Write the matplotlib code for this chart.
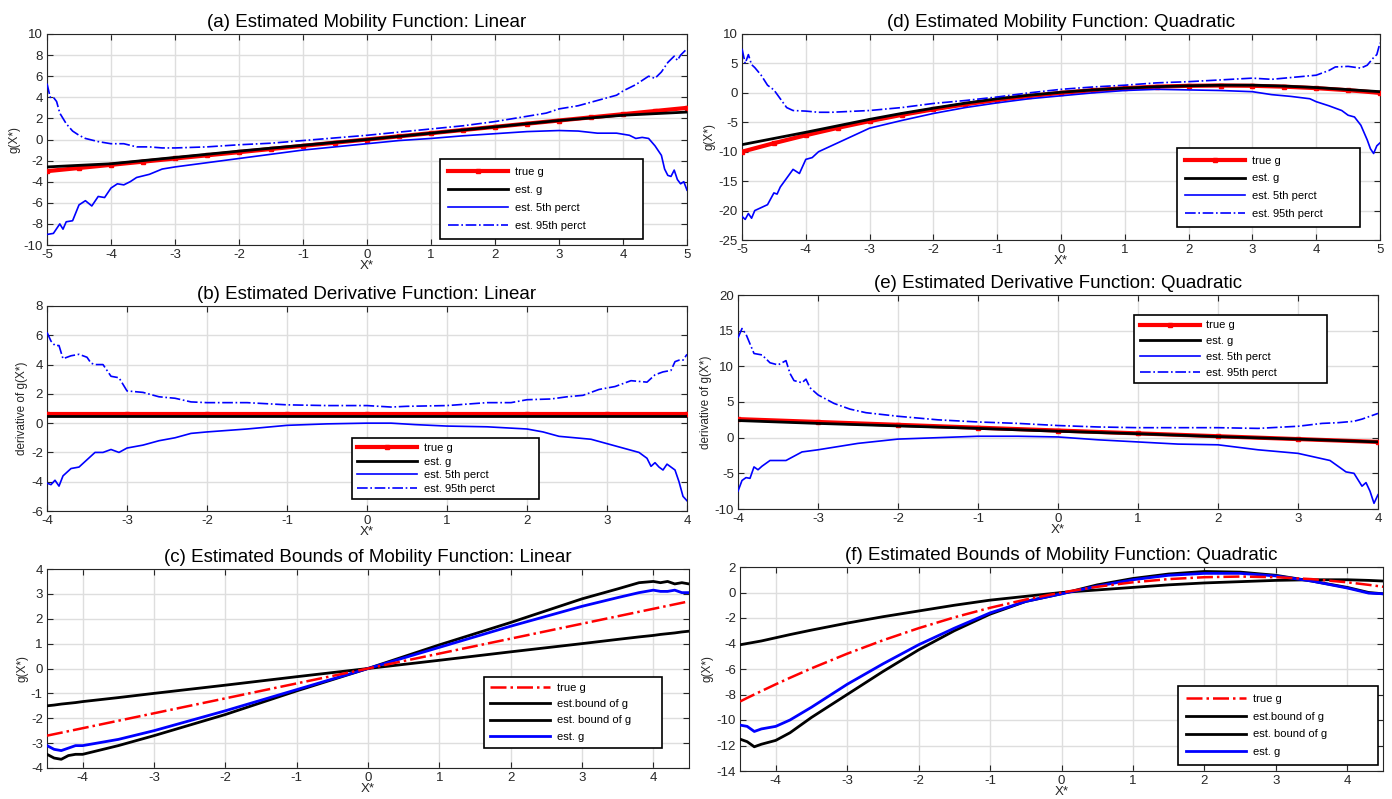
import matplotlib
matplotlib.use("Agg")
import matplotlib.pyplot as plt

# ---- data ----
# (a) linear mobility function
xa = [-5.0, -4.5, -4.0, -3.5, -3.0, -2.5, -2.0, -1.5, -1.0, -0.5, 0.0, 0.5, 1.0, 1.5, 2.0, 2.5, 3.0, 3.5, 4.0, 4.5, 5.0]
true_a = [-3.0, -2.7, -2.4, -2.1, -1.8, -1.5, -1.2, -0.9, -0.6, -0.3, 0.0, 0.3, 0.6, 0.9, 1.2, 1.5, 1.8, 2.1, 2.4, 2.7, 3.0]
est_a = [-2.6, -2.45, -2.3, -2.0, -1.7, -1.4, -1.1, -0.82, -0.55, -0.27, 0.0, 0.3, 0.6, 0.9, 1.2, 1.5, 1.8, 2.05, 2.3, 2.45, 2.6]
x5_a = [-5.0, -4.9, -4.8, -4.75, -4.7, -4.6, -4.5, -4.4, -4.3, -4.2, -4.1, -4.0, -3.9, -3.8, -3.7, -3.6, -3.4, -3.2, -3.0, -2.5, -2.0,
        -1.5, -1.0, -0.5, 0.0, 0.5, 1.0, 1.5, 2.0, 2.5, 3.0, 3.3, 3.6, 3.9, 4.1, 4.2, 4.3, 4.4, 4.5, 4.6, 4.65, 4.7, 4.75, 4.8,
        4.85, 4.9, 4.95, 5.0]
p5_a = [-9.0, -8.9, -8.0, -8.5, -7.8, -7.7, -6.2, -5.8, -6.3, -5.4, -5.5, -4.6, -4.2, -4.3, -4.0, -3.6, -3.3, -2.8, -2.6, -2.2, -1.8,
        -1.4, -1.0, -0.7, -0.4, -0.1, 0.1, 0.35, 0.55, 0.75, 0.85, 0.8, 0.6, 0.6, 0.4, 0.1, 0.2, 0.1, -0.6, -1.5, -2.8, -3.4, -3.5, -2.9,
        -3.8, -4.2, -4.0, -4.8]
x95_a = [-5.0, -4.95, -4.9, -4.85, -4.8, -4.7, -4.6, -4.5, -4.4, -4.2, -4.0, -3.8, -3.6, -3.4, -3.2, -3.0, -2.5, -2.0, -1.5, -1.0,
         -0.5, 0.0, 0.5, 1.0, 1.5, 2.0, 2.5, 2.8, 3.0, 3.3, 3.6, 3.9, 4.0, 4.2, 4.4, 4.5, 4.6, 4.7, 4.8, 4.85, 4.9, 5.0]
p95_a = [5.3, 4.0, 4.0, 3.6, 2.5, 1.5, 0.8, 0.4, 0.1, -0.2, -0.4, -0.4, -0.7, -0.7, -0.8, -0.8, -0.7, -0.5, -0.35, -0.1,
         0.15, 0.4, 0.7, 1.0, 1.3, 1.7, 2.2, 2.5, 2.9, 3.2, 3.7, 4.2, 4.6, 5.2, 6.0, 5.8, 6.4, 7.3, 7.9, 7.5, 8.0, 8.6]

# (d) quadratic mobility function
true_d = [-10.0, -8.55, -7.2, -5.95, -4.8, -3.75, -2.8, -1.95, -1.2, -0.55, 0.0, 0.45, 0.8, 1.05, 1.2, 1.25, 1.2, 1.05, 0.8, 0.45, 0.0]
est_d = [-8.8, -7.75, -6.7, -5.6, -4.5, -3.5, -2.6, -1.75, -1.0, -0.4, 0.1, 0.5, 0.8, 1.05, 1.2, 1.3, 1.3, 1.15, 0.9, 0.55, 0.2]
x5_d = [-5.0, -4.95, -4.9, -4.85, -4.8, -4.7, -4.6, -4.5, -4.45, -4.4, -4.3, -4.2, -4.1, -4.0, -3.9, -3.8, -3.6, -3.4, -3.2, -3.0,
        -2.5, -2.0, -1.5, -1.0, -0.5, 0.0, 0.5, 1.0, 1.5, 2.0, 2.5, 3.0, 3.3, 3.6, 3.9, 4.0, 4.2, 4.4, 4.5, 4.6, 4.7, 4.8, 4.85,
        4.9, 4.95, 5.0]
p5_d = [-21.0, -21.5, -20.5, -21.3, -20.0, -19.5, -19.0, -17.0, -17.2, -16.0, -14.5, -13.0, -13.7, -11.3, -11.0, -10.0, -9.0, -8.0,
        -7.0, -6.0, -4.7, -3.5, -2.5, -1.7, -1.0, -0.5, 0.0, 0.4, 0.6, 0.5, 0.4, 0.2, -0.3, -0.6, -1.0, -1.5, -2.2, -3.0, -3.8, -4.1,
        -5.5, -8.0, -9.5, -10.3, -9.0, -8.5]
x95_d = [-5.0, -4.95, -4.9, -4.85, -4.8, -4.7, -4.6, -4.5, -4.4, -4.3, -4.2, -4.0, -3.8, -3.6, -3.4, -3.0, -2.5, -2.0, -1.5, -1.0,
         -0.5, 0.0, 0.5, 1.0, 1.5, 2.0, 2.5, 3.0, 3.3, 3.6, 4.0, 4.2, 4.3, 4.5, 4.7, 4.8, 4.9, 4.95, 5.0]
p95_d = [7.5, 5.0, 6.5, 4.8, 4.3, 3.0, 1.3, 0.5, -1.0, -2.5, -3.0, -3.1, -3.3, -3.3, -3.2, -3.0, -2.5, -1.8, -1.3, -0.7,
         0.0, 0.6, 1.0, 1.3, 1.7, 1.9, 2.2, 2.5, 2.3, 2.6, 3.0, 3.8, 4.4, 4.5, 4.2, 4.7, 6.0, 6.5, 8.5]

# (b) derivative, linear
xb = [-4.0, -3.0, -2.0, -1.0, 0.0, 1.0, 2.0, 3.0, 4.0]
true_b = [0.6, 0.6, 0.6, 0.6, 0.6, 0.6, 0.6, 0.6, 0.6]
est_b = [0.5, 0.5, 0.5, 0.5, 0.5, 0.5, 0.5, 0.5, 0.5]
x95_b = [-4.0, -3.95, -3.9, -3.85, -3.8, -3.7, -3.6, -3.5, -3.45, -3.4, -3.3, -3.2, -3.1, -3.0, -2.8, -2.6, -2.4, -2.2, -2.0,
         -1.5, -1.0, -0.5, 0.0, 0.3, 0.5, 1.0, 1.5, 1.8, 2.0, 2.3, 2.5, 2.7, 2.9, 3.1, 3.3, 3.5, 3.6, 3.7, 3.8, 3.85, 3.9, 3.95, 4.0]
p95_b = [6.2, 5.6, 5.3, 5.3, 4.4, 4.6, 4.7, 4.5, 4.1, 4.0, 4.0, 3.2, 3.1, 2.2, 2.1, 1.8, 1.7, 1.45, 1.4,
         1.4, 1.25, 1.2, 1.2, 1.1, 1.15, 1.2, 1.4, 1.4, 1.6, 1.65, 1.8, 1.9, 2.3, 2.5, 2.9, 2.8, 3.3, 3.5, 3.6, 4.2, 4.3, 4.3, 4.7]
x5_b = [-4.0, -3.95, -3.9, -3.85, -3.8, -3.7, -3.6, -3.5, -3.4, -3.3, -3.2, -3.1, -3.0, -2.8, -2.6, -2.4, -2.2, -2.0, -1.5,
        -1.0, -0.5, 0.0, 0.3, 0.6, 1.0, 1.5, 2.0, 2.2, 2.4, 2.6, 2.8, 3.0, 3.2, 3.4, 3.5, 3.55, 3.6, 3.65, 3.7, 3.75, 3.8, 3.85,
        3.9, 3.95, 4.0]
p5_b = [-4.1, -4.2, -3.9, -4.3, -3.6, -3.1, -3.0, -2.5, -2.0, -2.0, -1.8, -2.0, -1.7, -1.5, -1.2, -1.0, -0.7, -0.6, -0.4,
        -0.15, -0.05, 0.0, 0.0, -0.1, -0.2, -0.25, -0.4, -0.6, -0.9, -1.0, -1.1, -1.4, -1.7, -2.0, -2.4, -2.95, -2.7, -3.0, -3.2,
        -2.8, -3.0, -3.2, -4.0, -5.0, -5.3]

# (e) derivative, quadratic
true_e = [2.6, 2.2, 1.8, 1.4, 1.0, 0.6, 0.2, -0.2, -0.6]
est_e = [2.4, 2.0, 1.65, 1.3, 0.9, 0.55, 0.15, -0.2, -0.6]
x95_e = [-4.0, -3.95, -3.9, -3.8, -3.7, -3.6, -3.5, -3.4, -3.35, -3.3, -3.2, -3.15, -3.1, -3.0, -2.8, -2.6, -2.4, -2.0, -1.5,
         -1.0, -0.5, 0.0, 0.5, 1.0, 1.5, 2.0, 2.5, 3.0, 3.3, 3.5, 3.7, 3.8, 3.9, 4.0]
p95_e = [14.0, 15.3, 14.5, 11.8, 11.6, 10.5, 10.2, 10.8, 9.0, 8.0, 7.7, 8.2, 7.0, 6.0, 4.8, 4.0, 3.5, 3.0, 2.5,
         2.2, 2.0, 1.7, 1.5, 1.4, 1.4, 1.4, 1.3, 1.6, 2.0, 2.1, 2.3, 2.6, 3.0, 3.4]
x5_e = [-4.0, -3.95, -3.9, -3.85, -3.8, -3.75, -3.7, -3.6, -3.4, -3.2, -3.0, -2.5, -2.0, -1.5, -1.0, -0.5, 0.0, 0.5, 1.0,
        1.5, 2.0, 2.5, 3.0, 3.2, 3.4, 3.6, 3.7, 3.8, 3.85, 3.9, 3.95, 4.0]
p5_e = [-7.5, -6.0, -5.6, -5.7, -4.1, -4.5, -4.0, -3.2, -3.2, -2.0, -1.7, -0.8, -0.2, 0.0, 0.2, 0.2, 0.1, -0.3, -0.6,
        -0.9, -1.0, -1.7, -2.2, -2.7, -3.2, -4.8, -5.0, -6.8, -6.3, -7.5, -9.2, -8.0]

# (c) bounds, linear
xc = [-4.5, -4.4, -4.3, -4.2, -4.1, -4.0, -3.5, -3.0, -2.0, -1.0, 0.0, 1.0, 2.0, 3.0, 3.5, 3.8, 4.0, 4.1, 4.2, 4.3, 4.4, 4.5]
true_c = [-2.7, -2.64, -2.58, -2.52, -2.46, -2.4, -2.1, -1.8, -1.2, -0.6, 0.0, 0.6, 1.2, 1.8, 2.1, 2.28, 2.4, 2.46, 2.52, 2.58, 2.64, 2.7]
low_c = [-1.5, -1.47, -1.43, -1.4, -1.37, -1.33, -1.17, -1.0, -0.67, -0.33, 0.0, 0.33, 0.67, 1.0, 1.17, 1.27, 1.33, 1.37, 1.4, 1.43, 1.47, 1.5]
high_c = [-3.45, -3.6, -3.65, -3.5, -3.45, -3.45, -3.1, -2.7, -1.85, -0.9, 0.0, 0.95, 1.85, 2.8, 3.2, 3.45, 3.5, 3.45, 3.5, 3.4, 3.45, 3.4]
est_c = [-3.1, -3.25, -3.3, -3.2, -3.1, -3.1, -2.85, -2.5, -1.7, -0.85, 0.0, 0.85, 1.7, 2.5, 2.85, 3.05, 3.15, 3.1, 3.1, 3.15, 3.05, 3.05]

# (f) bounds, quadratic
xf = [-4.5, -4.4, -4.3, -4.2, -4.0, -3.8, -3.5, -3.0, -2.5, -2.0, -1.5, -1.0, -0.5, 0.0, 0.5, 1.0, 1.5, 2.0, 2.5, 3.0, 3.5, 4.0, 4.3, 4.5]
true_f = [-8.55, -8.27, -8.0, -7.73, -7.2, -6.69, -5.95, -4.8, -3.75, -2.8, -1.95, -1.2, -0.55, 0.0, 0.45, 0.8, 1.05, 1.2, 1.25, 1.2,
          1.05, 0.8, 0.6, 0.45]
low_f = [-4.1, -4.0, -3.9, -3.8, -3.55, -3.3, -2.95, -2.4, -1.9, -1.45, -1.0, -0.6, -0.3, 0.0, 0.2, 0.4, 0.6, 0.75, 0.85, 0.95,
         1.0, 1.0, 0.95, 0.9]
high_f = [-11.5, -11.7, -12.1, -11.9, -11.6, -11.0, -9.8, -8.0, -6.2, -4.5, -3.0, -1.7, -0.7, -0.1, 0.6, 1.1, 1.45, 1.65, 1.6, 1.35,
          0.9, 0.4, 0.0, -0.1]
est_f = [-10.4, -10.5, -10.9, -10.7, -10.5, -10.0, -9.0, -7.2, -5.6, -4.1, -2.8, -1.6, -0.7, -0.1, 0.5, 1.0, 1.35, 1.5, 1.5, 1.3,
         0.9, 0.35, -0.05, -0.1]

plt.rcParams['font.family'] = ['Liberation Sans', 'DejaVu Sans']

W, H = 1392, 799
fig = plt.figure(figsize=(W / 100, H / 100), dpi=100)


def add_ax(l, t, r, b):
    return fig.add_axes([l / W, 1 - b / H, (r - l) / W, (b - t) / H])


def style(ax, title, xlim, ylim, yticks, ylabel, xticks):
    ax.set_title(title, fontsize=13.5, pad=5)
    ax.set_xlim(xlim)
    ax.set_ylim(ylim)
    ax.set_xticks(xticks)
    ax.set_yticks(yticks)
    ax.set_xticklabels([str(v) for v in xticks])
    ax.set_yticklabels([str(v) for v in yticks])
    ax.tick_params(direction='in', top=True, right=True, labelsize=9.5, length=4, width=0.8, colors='#262626', pad=3)
    ax.grid(True, color='#dedede', linewidth=1)
    ax.set_axisbelow(True)
    for s in ax.spines.values():
        s.set_color('#262626')
        s.set_linewidth(0.8)
    ax.set_xlabel('X*', fontsize=9.5, labelpad=-1, color='#262626')
    ax.set_ylabel(ylabel, fontsize=8.5, labelpad=2, color='#262626')


def legend(ax, x0, top, w, spacing, pad):
    lg = ax.legend(loc='upper left', bbox_to_anchor=(x0, top - 0.01, w, 0.01), mode='expand', borderaxespad=0,
                   fontsize=8, handlelength=5.4, fancybox=False, edgecolor='black', framealpha=1,
                   borderpad=pad, labelspacing=spacing, handletextpad=0.6)
    lg.get_frame().set_linewidth(1.2)


def band_panel(ax, x, tv, ev, x5, p5, x95, p95):
    ax.plot(x, tv, color='red', lw=3, marker='s', ms=2.5, label='true g', zorder=3)
    ax.plot(x, ev, color='black', lw=2, label='est. g', zorder=4)
    ax.plot(x5, p5, color='blue', lw=1.2, label='est. 5th perct', zorder=5)
    ax.plot(x95, p95, color='blue', lw=1.2, ls='-.', label='est. 95th perct', zorder=5)


# (a)
ax = add_ax(47, 34, 687, 245)
band_panel(ax, xa, true_a, est_a, x5_a, p5_a, x95_a, p95_a)
style(ax, '(a) Estimated Mobility Function: Linear', (-5, 5), (-10, 10), list(range(-10, 11, 2)), 'g(X*)', list(range(-5, 6)))
legend(ax, 0.614, 0.408, 0.317, 0.7, 0.75)

# (d)
ax = add_ax(742, 34, 1380, 240)
band_panel(ax, xa, true_d, est_d, x5_d, p5_d, x95_d, p95_d)
style(ax, '(d) Estimated Mobility Function: Quadratic', (-5, 5), (-25, 10), list(range(-25, 11, 5)), 'g(X*)', list(range(-5, 6)))
legend(ax, 0.682, 0.447, 0.287, 0.68, 0.72)

# (b)
ax = add_ax(47, 306, 687, 511)
band_panel(ax, xb, true_b, est_b, x5_b, p5_b, x95_b, p95_b)
style(ax, '(b) Estimated Derivative Function: Linear', (-4, 4), (-6, 8), list(range(-6, 9, 2)), 'derivative of g(X*)', list(range(-4, 5)))
legend(ax, 0.477, 0.356, 0.292, 0.33, 0.45)

# (e)
ax = add_ax(738, 295, 1378, 509)
band_panel(ax, xb, true_e, est_e, x5_e, p5_e, x95_e, p95_e)
style(ax, '(e) Estimated Derivative Function: Quadratic', (-4, 4), (-10, 20), list(range(-10, 21, 5)), 'derivative of g(X*)', list(range(-4, 5)))
legend(ax, 0.619, 0.907, 0.302, 0.52, 0.5)


def bound_panel(ax, x, tv, lo, hi, ev):
    ax.plot(x, tv, color='red', lw=1.8, ls='-.', label='true g', zorder=5)
    ax.plot(x, lo, color='black', lw=2, label='est.bound of g', zorder=3)
    ax.plot(x, hi, color='black', lw=2, label='est. bound of g', zorder=3)
    ax.plot(x, ev, color='blue', lw=2, label='est. g', zorder=4)


# (c)
ax = add_ax(47, 569, 689, 768)
bound_panel(ax, xc, true_c, low_c, high_c, est_c)
style(ax, '(c) Estimated Bounds of Mobility Function: Linear', (-4.5, 4.5), (-4, 4), list(range(-4, 5)), 'g(X*)', list(range(-4, 5)))
legend(ax, 0.681, 0.457, 0.277, 0.55, 0.55)

# (f)
ax = add_ax(740, 567, 1383, 771)
bound_panel(ax, xf, true_f, low_f, high_f, est_f)
style(ax, '(f) Estimated Bounds of Mobility Function: Quadratic', (-4.5, 4.5), (-14, 2), list(range(-14, 3, 2)), 'g(X*)', list(range(-4, 5)))
legend(ax, 0.681, 0.417, 0.311, 0.7, 0.72)

fig.savefig('out.png', dpi=100)
